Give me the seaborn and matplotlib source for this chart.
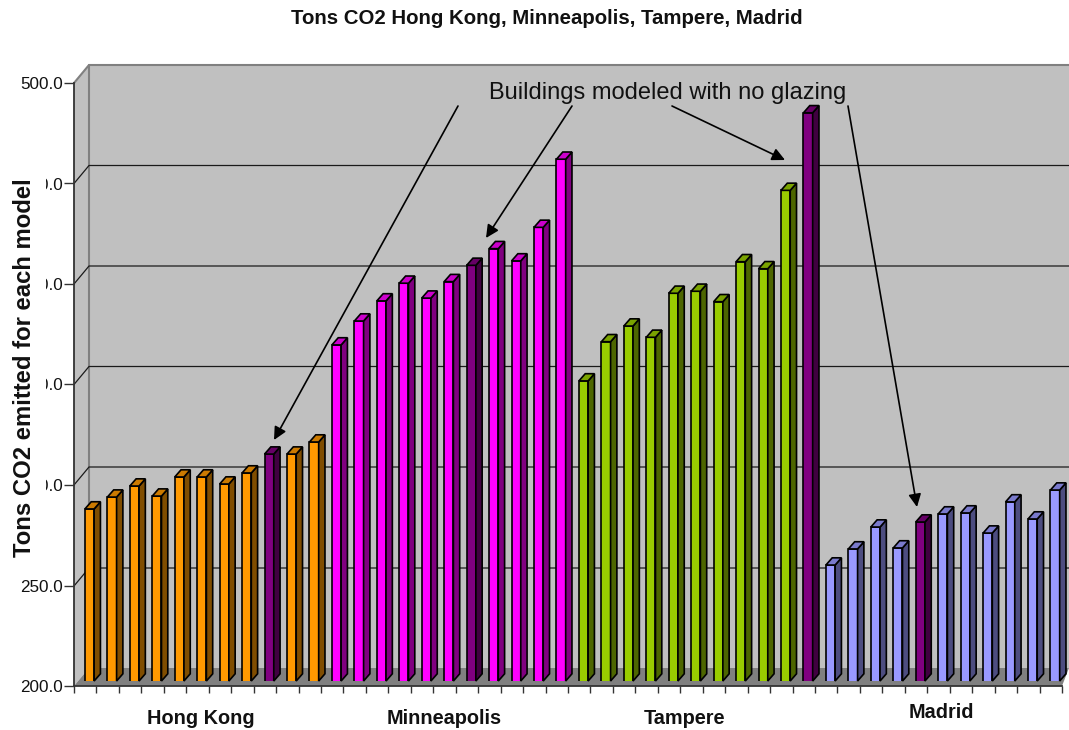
import numpy as np
import pandas as pd
import seaborn as sns
import matplotlib.pyplot as plt
from matplotlib.patches import Polygon

sns.set_theme(style="white")
plt.rcParams["font.family"] = ["Liberation Sans", "DejaVu Sans"]

# values
cities = ["Hong Kong", "Minneapolis", "Tampere", "Madrid"]
hong_kong = [285.6, 291.5, 297.0, 292.0, 301.5, 301.5, 298.0, 303.5, 312.9, 312.9, 318.9]
minneapolis = [367.2, 379.1, 389.1, 397.9, 390.5, 398.7, 406.8, 415.1, 409.0, 425.7, 459.6]
tampere = [349.3, 368.8, 376.6, 371.0, 392.9, 393.9, 388.7, 408.6, 405.1, 444.1, 482.7]
madrid = [257.7, 265.7, 276.6, 266.2, 279.1, 283.1, 283.6, 273.6, 289.1, 280.6, 295.0]
no_glazing = [8, 6, 10, 4]  # position of the no glazing model in each city
city_colors = ["#FF9900", "#FF00FF", "#99CC00", "#9999FF"]
purple = "#800080"
y_ticks = [200, 250, 300, 350, 400, 450, 500]

W, H = 1069, 730
tons = hong_kong + minneapolis + tampere + madrid
colors = []
for color, series, special in zip(city_colors, [hong_kong, minneapolis, tampere, madrid], no_glazing):
    colors += [purple if i == special else color for i in range(len(series))]
df = pd.DataFrame({"model": [str(i) for i in range(len(tons))], "tons": tons})

fig = plt.figure(figsize=(W / 100, H / 100), dpi=100, facecolor="white")


def px_axes(left, bottom, width, height, z):
    a = fig.add_axes([left / W, (H - bottom) / H, width / W, height / H], zorder=z)
    a.patch.set_visible(False)
    return a


# walls and floor, in picture pixels
bg = fig.add_axes([0, 0, 1, 1], zorder=0)
bg.set_xlim(0, W)
bg.set_ylim(H, 0)
bg.axis("off")
bg.add_patch(Polygon([(89, 65), (W, 65), (W, 668), (89, 668)], fc="#C0C0C0", ec="none"))
bg.add_patch(Polygon([(74, 83), (89, 65), (89, 668), (74, 686)], fc="#C0C0C0", ec="none"))
bg.add_patch(Polygon([(74, 686), (89, 668), (W, 668), (1062, 686)], fc="#808080", ec="none"))
bg.plot([74, 89, W], [83, 65, 65], color="#808080", lw=1.5)
bg.plot([89, 89], [65, 668], color="#808080", lw=1.5)
for gy in [165.5, 266, 366.5, 467, 568]:
    bg.plot([74, 89, W], [gy + 18, gy, gy], color="#1a1a1a", lw=0.9)

# front axis with the ticks
ax = px_axes(74, 686, 988, 603, 1)
ax.set_xlim(-0.5, len(tons) - 0.5)
ax.set_ylim(200, 500)
ax.set_yticks(y_ticks)
ax.set_yticklabels([f"{v:.1f}" for v in y_ticks], fontsize=12.3, color="#111111")
ax.set_xticks(np.arange(len(tons) + 1) - 0.5)
ax.set_xticklabels([])
ax.tick_params(axis="y", left=True, length=7, width=1, color="#333333", pad=1)
ax.tick_params(axis="x", bottom=True, length=5, width=1, color="#333333")
for side in ["top", "right"]:
    ax.spines[side].set_visible(False)
for side in ["left", "bottom"]:
    ax.spines[side].set_color("#333333")
    ax.spines[side].set_linewidth(1.3)
ax.set_ylabel("Tons CO2 emitted for each model", fontsize=17.2, fontweight="bold", color="#111111",
              bbox=dict(fc="white", ec="none", pad=7))
ax.yaxis.set_label_coords(-38 / 988, 0.528)

# bars sit in the middle of the floor depth
bx = px_axes(78.3, 681, 988, 603, 2)
sns.barplot(data=df, x="model", y="tons", hue="model", palette=colors, legend=False, saturation=1,
            width=0.41, edgecolor="black", linewidth=1.2, ax=bx)
bx.set_xlim(-0.5, len(tons) - 0.5)
bx.set_ylim(200, 500)
bx.axis("off")

dx = 6.3 / (988 / len(tons))
dy = 7.2 / (603 / 300)
for bar, c in zip(bx.patches, colors):
    x0, x1, top = bar.get_x(), bar.get_x() + bar.get_width(), bar.get_height()
    rgb = np.array(plt.matplotlib.colors.to_rgb(c))
    bx.add_patch(Polygon([(x1, 200), (x1 + dx, 200 + dy), (x1 + dx, top + dy), (x1, top)],
                         fc=rgb * 0.5, ec="black", lw=1.2, clip_on=False))
    bx.add_patch(Polygon([(x0, top), (x0 + dx, top + dy), (x1 + dx, top + dy), (x1, top)],
                         fc=rgb * 0.8, ec="black", lw=1.2, clip_on=False))

# texts and arrows
top = fig.add_axes([0, 0, 1, 1], zorder=3)
top.set_xlim(0, W)
top.set_ylim(H, 0)
top.axis("off")
top.text(547, 19, "Tons CO2 Hong Kong, Minneapolis, Tampere, Madrid", ha="center", va="center",
         fontsize=14.65, fontweight="bold", color="#111111")
top.text(668, 93, "Buildings modeled with no glazing", ha="center", va="center", fontsize=17, color="#111111")
for city, cx, cy in zip(cities, [201, 444, 684, 941], [718, 718, 718, 712]):
    top.text(cx, cy, city, ha="center", va="center", fontsize=14.3, fontweight="bold", color="#111111")
for start, end in [((458, 106), (274, 440)), ((572, 106), (486, 238)), ((672, 106), (785, 160)), ((848, 106), (917, 507))]:
    top.annotate("", xy=end, xytext=start,
                 arrowprops=dict(arrowstyle="-|>,head_length=0.55,head_width=0.27", color="black", lw=1.2,
                                 shrinkA=0, shrinkB=0, mutation_scale=14))

fig.savefig("out.png", dpi=100)
